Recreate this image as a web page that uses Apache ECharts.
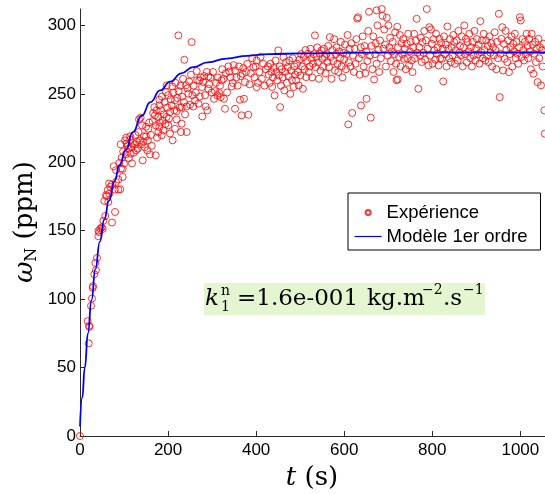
<!DOCTYPE html>
<html>
<head>
<meta charset="utf-8">
<script src="https://cdn.jsdelivr.net/npm/echarts@6/dist/echarts.min.js"></script>
<style>
html,body{margin:0;padding:0;background:#fff;}
#chart{width:545px;height:494px;}
</style>
</head>
<body>
<div id="chart"></div>
<script>
// ---- data ----
const xTicks = [0, 200, 400, 600, 800, 1000];
const yTicks = [0, 50, 100, 150, 200, 250, 300];
const xMax = 1056;
const yMax = 312;

const seriesNames = ['Expérience', 'Modèle 1er ordre'];

// model curve (t in s, omega in ppm)
const modelT = [0, 5, 11, 18, 26, 35, 45, 55, 66, 78, 90, 104, 120, 140, 160, 182, 205, 230, 257, 290, 333, 380, 430, 500, 600, 750, 900, 1056];
const modelW = [7, 28, 50, 75, 99, 122, 142, 158, 172, 186, 198, 209, 222, 234, 244, 252.5, 259, 265, 269.5, 273, 275.8, 277.8, 279, 279.6, 280, 280.2, 280.2, 280.2];

// experimental points [t, omega]
const experience = [
[0,0],[17.4,83.9],[19.7,67.7],[20.7,80.5],[21.2,79.8],[25,95.1],[27.2,100.5],[28.8,108.3],[29.5,109.5],[32.5,118.2],[34.8,126.5],[36.3,121.2],[38.6,130.1],[41.6,146],[42,150],[43.8,148.9],[46.2,151.6],[49.3,152.3],[51.5,151.3],[53,157.2],[55.2,171.8],[57.4,160.8],[59,176],[60.6,175.2],[62.9,179.6],[64.3,171],[66,184.5],[66.5,177.1],[68.8,182],[72.6,183.7],[72.6,156],[76.5,197.1],[79.5,163.7],[79.5,180],[81.7,185.6],[81.7,194.2],[87,180],[87,187.4],[89.3,199.5],[91.5,180.3],[92.3,213.1],[93,195.4],[94.6,203.4],[96.9,189.3],[96.9,195.1],[98,208],[100,199],[102.2,216],[103.7,205.8],[105,218],[106,213.6],[108,212],[109.8,209.9],[111,203],[113.6,216.5],[114,219],[115.1,206.3],[117.3,211.1],[118.1,199.2],[120,214],[122,207],[124.9,213.1],[126,220],[127.2,208.7],[129,215],[131,210],[133,222],[134,231.3],[136.3,216],[137.7,232.6],[139,213],[141,227],[142.3,201.4],[143.8,214.8],[145,219],[147,211],[149.9,218.9],[150,226],[152.9,208.7],[154,216],[155.2,224.5],[157,229],[159,205.8],[161,220],[163,212],[165,230.1],[166,236],[168.8,240.3],[170.2,234.3],[171.9,205.1],[172,227],[174,238],[175,218],[177.9,222.1],[178,233],[180.1,241.6],[180.1,225.7],[180.1,245.7],[182,229],[184,238],[185.5,219.7],[186,248],[187.8,230.6],[189.2,223.3],[190,235],[192,244],[194,228],[195.1,251.3],[196.8,233.1],[196.8,256.2],[198,240],[200,249],[200.6,227],[202,232],[204.4,221],[204.4,236.7],[206,246],[208.1,241.6],[209.7,255.4],[210.4,216],[212,251],[214,238],[215.7,224.5],[215.7,245.2],[217,258],[219.5,237.4],[219.5,231.3],[221,247],[223.3,292.7],[224,252],[226,240],[228,256],[229.4,222.1],[230.8,228.2],[230.8,240.3],[232,248],[234,261],[236,244],[237,274.9],[238.5,235],[240.7,256.2],[242.2,222.1],[242.2,240.8],[244,254],[246,250.1],[248,259],[250,242],[252,264],[253.5,287.8],[255,249],[257.3,240.8],[258,256],[261.2,245.2],[263,251],[265,266.6],[266,260],[268.8,242.8],[270.9,259.8],[272,248],[274,262],[277,255],[277.8,233.5],[280,258.6],[282,263],[284,249],[285.4,240.8],[288,266],[289.1,237.9],[291.4,253.7],[291.4,262.7],[293,257],[296,262],[299,251],[302,266],[304.2,246.4],[306.5,252],[309,258],[311.9,248.9],[313,262],[316.4,250.6],[318,256],[319.4,247.6],[321.6,259.8],[323,268],[326,261],[327,246.4],[329.2,239.1],[331,265],[334,251],[337,270],[339.1,266.4],[342,262],[344.4,255.4],[347,258],[349,271],[352,267.1],[352,239.1],[355,262],[358,256],[361,270],[363.3,245.7],[365,263],[367,234.3],[369.3,264.7],[370.8,268.8],[372.4,246.4],[374.7,258.6],[377,266],[380,272],[382.2,234.7],[385,257],[388,265],[391,276],[393.6,269.5],[396,262],[399,270],[401.2,274.4],[401.2,254.9],[404,258],[407,266],[410,277],[413,261],[416,272],[419,256],[422,268],
[426.8,270],[428.6,264],[430.5,258],[432.5,272],[434.4,266],[436.3,255],[438.2,262],[440.1,269],[442,248.9],[444,274.4],[445.9,265.9],[447.8,259.8],[450.3,281.7],[451.6,263.5],[453.5,270],[454.5,240.3],[456.4,256],[458.3,268],[460.2,262],[462.1,276.8],[464,252.5],[466,266],[467.9,273.2],[469.8,258],[471.7,269.5],[473.6,263],[475.5,274.4],[477.4,250],[479.4,267],[481.3,260],[483.2,276],[485.1,255],[487,270],[488.9,264],[490.8,259.8],[492.8,272],[494.7,266],[496.6,256.2],[498.5,275],[500.4,263.5],[502.3,279],[504.2,270],[506.2,253.7],[508.1,276.8],[510,268],[511.9,282],[513.8,262.2],[515.7,274],[517.6,279.3],[519.6,265.9],[521.5,270],[523.4,283],[525.3,276],[527.2,262],[529.1,272],[531,279],[533.5,292.7],[534.9,269.5],[536.8,277],[538.7,284],[540.6,273],[542.5,261],[544.4,279.3],[546.3,267],[548.3,281.7],[550.2,275.6],[552.1,270],[554,283],[555.9,276.8],[557.8,265],[559.7,279],[561.7,273.2],[563.6,285],[565.5,269.5],[567.4,291.4],[569.3,277],[571.2,261],[573.1,282],[575.1,274],[577,290],[578.9,267],[580.8,279],[582.7,284],[584.6,272],[586.5,265.9],[588.5,281],[590.4,276],[592.3,288],[594.2,270],[596.1,262],[598,280],[599.9,275],[601.9,286],[603.8,268],[605.7,279],[607.6,293],[609.2,227.7],[610.5,273],[612.4,283],[614.3,270],[616.2,287],[618.1,236],[620,278],[622,266],[623.9,283],[625.8,272],[627.7,290],[629.6,305],[631.5,306],[633.4,276],[635.3,264],[637.3,284],[638.2,241.5],[640.1,279],[642,292],[644,270],[645.9,285],[647.8,265],[649.7,281],[650.7,246.4],[652.6,274],[654.5,296],[656.4,310],[658.3,278],[660.2,232.6],[662.1,285],[664,268],[666,292],[667.9,260.5],[669.8,279],[671.7,287],[673.6,272],[673.6,311],[675.5,300],[677.5,282],[679.4,266],[681.3,289],[683.2,276],[685.1,312],[687,307],[689,283],
[690.9,297],[692.8,286],[694.7,270],[696.6,305.6],[698.5,278],[700.4,300],[702.3,284],[704.3,291],[706.2,274],[708.1,281],[710,288],[711.9,266],[713.8,279],[715.7,295],[717.6,272],[718.6,260],[720.5,299],[721.5,260.5],[722.4,284],[724.3,277],[726.3,293],[728.2,270],[730.1,287],[732,279],[733.9,290],[735.8,275.6],[737.7,282.9],[739.7,268],[741.6,286.6],[743.5,276],[745.4,293.9],[747.3,270.8],[749.2,281],[751.1,288],[753.1,274.4],[755,265.9],[756.9,284],[758.8,293.9],[760.7,276],[762.6,289],[764.5,304.8],[766.5,280],[768.4,253.7],[770.3,284],[772.2,278],[774.1,291],[776,273.2],[777.9,287.8],[779.9,280],[781.8,296],[783.7,275],[785.6,289],[787.5,312],[789.4,283],[791.3,270.8],[793.3,298.7],[795.2,278],[797.1,297],[799,286.6],[800.9,272],[802.8,290],[804.7,281.7],[806.7,275],[808.6,293.9],[810.5,279.3],[812.4,284],[814.3,270.8],[816.2,290.2],[818.1,276],[820.1,287],[822,275.6],[823.9,283],[824.8,259.1],[826.7,292],[828.7,279],[830.6,286],[832.5,270],[834.4,299.2],[836.3,283],[838.2,276],[840.1,290],[842.1,273.2],[844,284.1],[845.9,278],[847.8,293],[849.7,287.8],[851.6,272],[853.5,281.7],[855.5,289],[857.4,274.4],[859.3,296],[861.2,280],[863.1,285],[865,278],[866.9,292],[868.9,270],[870.8,284],[872.7,300],[874.6,279],[876.5,290.2],[878.4,273],[880.3,287.8],[882.3,281],[884.2,293.9],[886.1,276],[888,284.1],[889.9,270],[891.8,288],[893.7,278],[895.7,296],[897.6,274.4],[899.5,283],[901.4,290],[903.3,279],[905.2,286],[907.1,272],[909.1,303.1],[911,280.5],[912.9,289],[914.8,276],[916.7,293.9],[918.6,282],[920.5,274.4],[922.4,289],[924.4,278],[926.3,285],[928.2,273.2],[930.1,292],[932,280],[933.9,287],[935.8,270],[937.8,284],[939.7,278],[941.6,295],[943.5,282],[945.4,268],[947.3,288],[949.2,276],[951.2,308.5],[953.1,247.6],[955,279.3],[956.9,290.2],[958.8,298.7],[960.7,267.1],[962.6,286.6],[964.6,275.6],[966.5,296],[968.4,282],[970.3,273.2],[972.2,289],[974.1,265.9],[976,279],[978,284.1],[979.9,292],[981.8,270],[983.7,286.6],[985.6,281],[987.5,293.9],[989.4,276],[991.4,288],[993.3,279.3],[995.2,272],[997.1,284],[999,306],[1000.9,303.6],[1002.8,277],[1004.7,290],[1006.7,282],[1008.6,274.4],[1010.5,288],[1012.4,279],[1014.3,293.9],[1016.2,285],[1018.1,276],[1020.1,290.2],[1022,281],[1023.9,268],[1025.8,293.9],[1027.7,286],[1029.6,264.7],[1031.5,279.3],[1033.5,288],[1035.4,273.2],[1037.3,283],[1039.2,258.6],[1041.1,290.2],[1043,276],[1044.9,284],[1046.9,256.2],[1048.8,281.7],[1050.7,270],[1052.6,286.6],[1054.5,237.9],[1055.5,220.9]
];

// ---- chart ----
const modelData = modelT.map((t, i) => [t, modelW[i]]);
const serif = 'DejaVu Serif';
const sans = 'Liberation Sans';
const axisColor = '#2b2b2b';

const chart = echarts.init(document.getElementById('chart'), null, {renderer: 'canvas'});
chart.setOption({
  animation: false,
  backgroundColor: '#ffffff',
  grid: {left: 80, top: 9, right: 0, bottom: 58, containLabel: false},
  xAxis: {
    type: 'value', min: 0, max: xMax, interval: 200,
    axisLine: {show: true, onZero: false, lineStyle: {color: axisColor, width: 1}},
    axisTick: {show: true, inside: true, length: 5, customValues: xTicks, lineStyle: {color: axisColor}},
    axisLabel: {customValues: xTicks, color: '#000', fontSize: 17, fontFamily: sans, margin: 6,
                formatter: v => String(v)},
    splitLine: {show: false}
  },
  yAxis: {
    type: 'value', min: 0, max: yMax, interval: 50,
    axisLine: {show: true, onZero: false, lineStyle: {color: axisColor, width: 1}},
    axisTick: {show: true, inside: true, length: 5, customValues: yTicks, lineStyle: {color: axisColor}},
    axisLabel: {customValues: yTicks, color: '#000', fontSize: 17, fontFamily: sans, margin: 4,
                formatter: v => String(v)},
    splitLine: {show: false}
  },
  legend: {
    left: 348, top: 193, orient: 'vertical',
    itemWidth: 27, itemHeight: 5, itemGap: 5,
    padding: [10, 13, 4, 6],
    borderColor: '#000', borderWidth: 1, backgroundColor: '#fff',
    selectedMode: false,
    textStyle: {fontSize: 18.5, fontFamily: sans, color: '#000'},
    data: [
      {name: seriesNames[0]},
      {name: seriesNames[1], itemStyle: {color: 'rgba(0,0,0,0)', borderWidth: 0, opacity: 0}, lineStyle: {width: 1.2}}
    ]
  },
  series: [
    {
      name: seriesNames[0], type: 'scatter', data: experience, clip: false,
      symbol: 'circle', symbolSize: 7,
      itemStyle: {color: 'rgba(255,0,0,0)', borderColor: '#ff0000', borderWidth: 1},
      z: 2
    },
    {
      name: seriesNames[1], type: 'line', data: modelData, symbol: 'none',
      smooth: true, smoothMonotone: 'x',
      lineStyle: {color: '#0000ff', width: 1.8},
      itemStyle: {color: '#0000ff'},
      z: 3
    }
  ],
  graphic: [
    // y-axis title
    {type: 'text', x: 25, y: 222, rotation: Math.PI / 2, z: 10,
     style: {text: '{w|ω}{n|N} (ppm)', align: 'center', verticalAlign: 'middle', fill: '#000',
       font: '26px "DejaVu Serif"',
       rich: {w: {fontFamily: serif, fontSize: 26, fontStyle: 'italic', lineHeight: 30},
              n: {fontFamily: serif, fontSize: 16, verticalAlign: 'bottom', lineHeight: 16}}}},
    // x-axis title
    {type: 'text', x: 312, y: 478, z: 10,
     style: {text: '{t|t} (s)', align: 'center', verticalAlign: 'middle', fill: '#000',
       font: '26px "DejaVu Serif"',
       rich: {t: {fontFamily: serif, fontSize: 26, fontStyle: 'italic'}}}},
    // annotation box
    {type: 'rect', shape: {x: 204, y: 283, width: 281, height: 32}, style: {fill: '#e3f6cf'}, z: 5},
    {type: 'text', x: 205, y: 299, z: 10, style: {text: 'k', align: 'left', verticalAlign: 'middle', fill: '#000', font: 'italic 23px "DejaVu Serif"'}},
    {type: 'text', x: 221, y: 291, z: 10, style: {text: 'n', align: 'left', verticalAlign: 'middle', fill: '#000', font: '14px "DejaVu Serif"'}},
    {type: 'text', x: 221, y: 307, z: 10, style: {text: '1', align: 'left', verticalAlign: 'middle', fill: '#000', font: '14px "DejaVu Serif"'}},
    {type: 'text', x: 237, y: 299, z: 10, style: {text: '=1.6e-001', align: 'left', verticalAlign: 'middle', fill: '#000', font: '23px "DejaVu Serif"'}},
    {type: 'text', x: 367, y: 299, z: 10, style: {text: 'kg.m', align: 'left', verticalAlign: 'middle', fill: '#000', font: '23px "DejaVu Serif"'}},
    {type: 'text', x: 422, y: 290, z: 10, style: {text: '−2', align: 'left', verticalAlign: 'middle', fill: '#000', font: '14px "DejaVu Serif"'}},
    {type: 'text', x: 443, y: 299, z: 10, style: {text: '.s', align: 'left', verticalAlign: 'middle', fill: '#000', font: '23px "DejaVu Serif"'}},
    {type: 'text', x: 463, y: 290, z: 10, style: {text: '−1', align: 'left', verticalAlign: 'middle', fill: '#000', font: '14px "DejaVu Serif"'}}
  ]
});
</script>
</body>
</html>
